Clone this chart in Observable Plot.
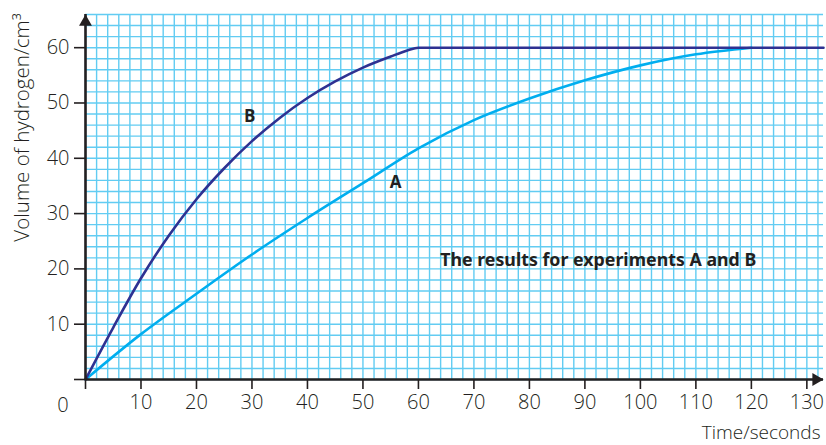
<!DOCTYPE html>
<html>
<head>
<meta charset="utf-8">
<script src="https://cdn.jsdelivr.net/npm/d3@7"></script>
<script src="https://cdn.jsdelivr.net/npm/@observablehq/plot@0.6"></script>
<style>
  html, body { margin: 0; padding: 0; background: #ffffff; }
  #chart { width: 826px; height: 445px; }
</style>
</head>
<body>
<div id="chart"></div>
<script>
// ---- data ----
const timeA = [0, 10, 20, 30, 40, 50, 60, 70, 80, 90, 100, 110, 120];
const volumeA = [0, 8.2, 15.5, 22.6, 29.2, 35.5, 41.8, 46.9, 50.8, 54.1, 56.8, 58.8, 60];
const timeB = [0, 5, 10, 15, 20, 25, 30, 35, 40, 45, 50, 55, 58, 60, 133];
const volumeB = [0, 9.4, 18.3, 26, 32.6, 38.2, 43.1, 47.3, 50.9, 53.9, 56.4, 58.4, 59.5, 60, 60];
const xTicks = [0, 10, 20, 30, 40, 50, 60, 70, 80, 90, 100, 110, 120, 130];
const yTicks = [0, 10, 20, 30, 40, 50, 60];
const gridX = d3.range(0, 134, 2);
const gridY = d3.range(0, 67, 2);
const labelX = "Time/seconds";
const labelY = "Volume of hydrogen/cm³";
const noteText = "The results for experiments A and B";
const curveLabels = [
  {name: "B", t: 29.6, v: 47.5},
  {name: "A", t: 55.9, v: 35.6}
];
const note = [{text: noteText, t: 92.4, v: 21.6}];

const seriesA = timeA.map((t, i) => ({t, v: volumeA[i]}));
const seriesB = timeB.map((t, i) => ({t, v: volumeB[i]}));

const ink = "#231f20";
const gridColor = "#62ccf2";
const font = "'Open Sans', 'Noto Sans', sans-serif";

const chart = Plot.plot({
  width: 826,
  height: 445,
  marginLeft: 85,
  marginRight: 3,
  marginTop: 14,
  marginBottom: 66,
  x: {domain: [0, 133]},
  y: {domain: [0, 66]},
  style: {fontFamily: font, color: ink, background: "#ffffff", overflow: "visible"},
  marks: [
    Plot.ruleX(gridX, {stroke: gridColor, strokeWidth: 1.4}),
    Plot.ruleY(gridY, {stroke: gridColor, strokeWidth: 1.4}),
    Plot.line(seriesA, {x: "t", y: "v", stroke: "#00aeef", strokeWidth: 2.6, curve: "monotone-x"}),
    Plot.line(seriesB, {x: "t", y: "v", stroke: "#2e3192", strokeWidth: 2.6, curve: "monotone-x"}),
    Plot.ruleY([0], {stroke: ink, strokeWidth: 2.6}),
    Plot.ruleX([0], {stroke: ink, strokeWidth: 2.6}),
    Plot.axisX({ticks: xTicks, tickSize: 10, tickPadding: 5, fontSize: 20, fontWeight: 300,
      tickFormat: d => d === 0 ? "" : String(d), label: null, stroke: ink, strokeWidth: 1.6}),
    Plot.axisY({ticks: yTicks, tickSize: 11, tickPadding: 5, fontSize: 20, fontWeight: 300,
      tickFormat: d => d === 0 ? "" : String(d), label: null, stroke: ink, strokeWidth: 1.6}),
    Plot.text(["0"], {x: 0, y: 0, dx: -22.5, dy: 26, fontSize: 20, fontWeight: 300, fill: ink}),
    Plot.dot([0], {x: 133, y: 0, symbol: "triangle", r: 4.8, rotate: 90, fill: ink, stroke: null, dx: -7.4}),
    Plot.dot([0], {x: 0, y: 66, symbol: "triangle", r: 4.8, fill: ink, stroke: null, dy: 7.4}),
    Plot.text([labelX], {frameAnchor: "bottom-right", textAnchor: "end", lineAnchor: "middle",
      dx: -3, dy: 53.5, fontSize: 19, fontWeight: 300, fill: ink}),
    Plot.text([labelY], {frameAnchor: "top-left", textAnchor: "middle", lineAnchor: "middle",
      rotate: -90, dx: -63, dy: 113, fontSize: 20.5, fontWeight: 300, fill: ink}),
    Plot.text(curveLabels, {x: "t", y: "v", text: "name", fontSize: 17, fontWeight: "bold", fill: ink}),
    Plot.text(note, {x: "t", y: "v", text: "text", fontSize: 17.8, fontWeight: "bold", fill: ink,
      fontFamily: "'Noto Sans', sans-serif"})
  ]
});

document.getElementById("chart").appendChild(chart);
</script>
</body>
</html>
